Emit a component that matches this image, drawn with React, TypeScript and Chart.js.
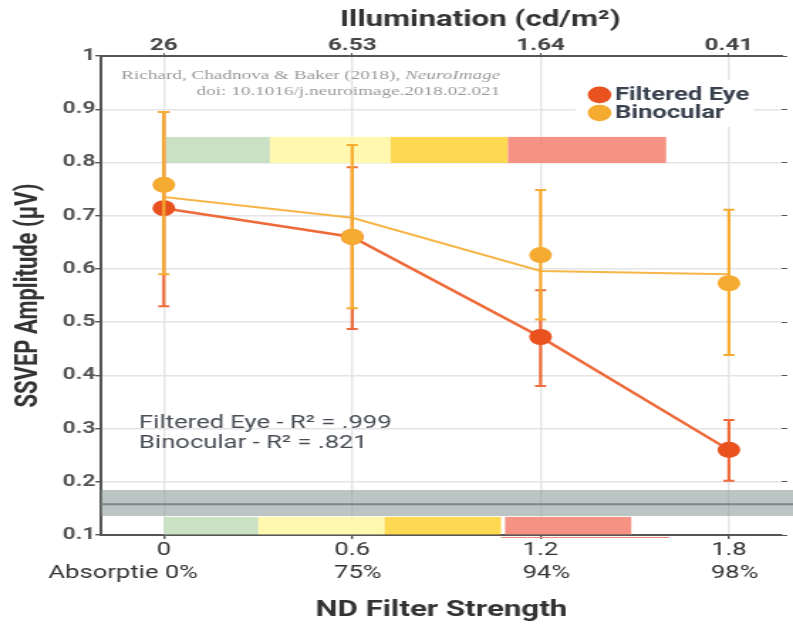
import React, { useEffect, useRef } from 'react';
import { Chart, registerables } from 'chart.js';

Chart.register(...registerables);

// ---------- data ----------
const ndStrength = [0, 0.6, 1.2, 1.8];
const ndLabels = ['0', '0.6', '1.2', '1.8'];
const absorptionLabels = ['Absorptie 0%', '75%', '94%', '98%'];
const illuminationLabels = ['26', '6.53', '1.64', '0.41'];

const filteredEye = [0.714, 0.66, 0.472, 0.26];
const filteredEyeLower = [0.53, 0.487, 0.38, 0.202];
const filteredEyeUpper = [0.895, 0.791, 0.56, 0.316];

const binocular = [0.758, 0.66, 0.626, 0.573];
const binocularLower = [0.59, 0.526, 0.505, 0.438];
const binocularUpper = [0.895, 0.833, 0.748, 0.711];
const binocularFit = [0.735, 0.696, 0.596, 0.59];

const bandColors = ['#C6DFC0', '#FFF8A8', '#FFD545', '#F58A7B'];
const topBandStarts = [0.006, 0.338, 0.722, 1.096];
const topBandEnds = [0.338, 0.722, 1.096, 1.6];
const topBandRange = [0.799, 0.848];
const bottomBandStarts = [0, 0.301, 0.703, 1.087];
const bottomBandEnds = [0.301, 0.703, 1.074, 1.489];
const bottomBandRange = [0.101, 0.134];
const grayBandRange = [0.1357, 0.1846];
const grayBandLine = 0.158;

const citation = ['Richard, Chadnova & Baker (2018), ', 'NeuroImage', 'doi: 10.1016/j.neuroimage.2018.02.021'];
const rSquaredLines = ['Filtered Eye - R\u00B2 = .999', 'Binocular - R\u00B2 = .821'];
const legendLabels = ['Filtered Eye', 'Binocular'];

// ---------- style ----------
const W = 558; // internal canvas width, shown stretched to 793px
const H = 625;
const RED = '#E9511E';
const RED_LINE = '#EE6A3A';
const ORANGE = '#F5AA30';
const ORANGE_LINE = '#F7B548';
const AXIS = '#555555';
const GRID = '#E4E4E4';
const FONT = 'Roboto, "Noto Sans", sans-serif';

const annotPlugin = {
  id: 'annot',
  beforeDatasetsDraw(chart: any) {
    const { ctx, chartArea, scales } = chart;
    const x = scales.x;
    const y = scales.y;
    ctx.save();
    // gray band (runs to the right edge of the canvas)
    const gTop = y.getPixelForValue(grayBandRange[1]);
    const gBot = y.getPixelForValue(grayBandRange[0]);
    ctx.fillStyle = 'rgba(143,157,157,0.6)';
    ctx.fillRect(chartArea.left, gTop, chart.width - chartArea.left, gBot - gTop);
    ctx.strokeStyle = '#7E8787';
    ctx.lineWidth = 2;
    ctx.beginPath();
    const gl = y.getPixelForValue(grayBandLine);
    ctx.moveTo(chartArea.left, gl);
    ctx.lineTo(chart.width, gl);
    ctx.stroke();

    // colour bands
    ctx.globalAlpha = 0.93;
    const drawBands = (starts: number[], ends: number[], range: number[]) => {
      const t = y.getPixelForValue(range[1]);
      const b = y.getPixelForValue(range[0]);
      starts.forEach((s, i) => {
        const l = x.getPixelForValue(s);
        const r = x.getPixelForValue(ends[i]);
        ctx.fillStyle = bandColors[i];
        ctx.fillRect(l, t, r - l, b - t);
      });
    };
    drawBands(topBandStarts, topBandEnds, topBandRange);
    drawBands(bottomBandStarts, bottomBandEnds, bottomBandRange);
    ctx.globalAlpha = 1;
    // thin salmon outline under last bottom band
    ctx.strokeStyle = '#F08A7C';
    ctx.lineWidth = 1.2;
    ctx.beginPath();
    ctx.moveTo(x.getPixelForValue(1.074), chartArea.bottom + 2.5);
    ctx.lineTo(x.getPixelForValue(1.61), chartArea.bottom + 2.5);
    ctx.stroke();

    // legend background
    const lx0 = x.getPixelForValue(1.312);
    const lx1 = x.getPixelForValue(1.879);
    const ly0 = y.getPixelForValue(0.955);
    const ly1 = y.getPixelForValue(0.867);
    ctx.fillStyle = '#ffffff';
    ctx.fillRect(lx0, ly0, lx1 - lx0, ly1 - ly0);
    // legend markers and labels
    const legendColors = [RED, ORANGE];
    const legendY = [0.927, 0.893];
    ctx.textAlign = 'left';
    ctx.textBaseline = 'middle';
    ctx.font = `bold 18px ${FONT}`;
    legendLabels.forEach((lab, i) => {
      const cy = y.getPixelForValue(legendY[i]);
      ctx.fillStyle = legendColors[i];
      ctx.beginPath();
      ctx.arc(x.getPixelForValue(1.388), cy, 8.3, 0, Math.PI * 2);
      ctx.fill();
      ctx.fillStyle = '#3A4250';
      ctx.fillText(lab, x.getPixelForValue(1.437), cy + 1);
    });

    // citation
    ctx.fillStyle = '#9A9A9A';
    ctx.textAlign = 'right';
    const cx = x.getPixelForValue(1.072);
    ctx.font = `italic 13.5px "Liberation Serif", serif`;
    const italicW = ctx.measureText(citation[1]).width;
    ctx.fillText(citation[1], cx, y.getPixelForValue(0.964));
    ctx.font = `13.5px "Liberation Serif", serif`;
    ctx.fillText(citation[0], cx - italicW, y.getPixelForValue(0.964));
    ctx.fillText(citation[2], cx, y.getPixelForValue(0.934));

    // R squared
    ctx.textAlign = 'left';
    ctx.fillStyle = '#474C55';
    ctx.font = `18px ${FONT}`;
    ctx.fillText(rSquaredLines[0], x.getPixelForValue(-0.079), y.getPixelForValue(0.31));
    ctx.fillText(rSquaredLines[1], x.getPixelForValue(-0.079), y.getPixelForValue(0.271));

    // second row of bottom labels
    ctx.fillStyle = '#333333';
    ctx.font = `18px ${FONT}`;
    const rowY = chartArea.bottom + 38;
    absorptionLabels.forEach((lab, i) => {
      const px = x.getPixelForValue(ndStrength[i]);
      if (i === 0) {
        ctx.textAlign = 'right';
        ctx.fillText(lab, px + 24, rowY);
      } else {
        ctx.textAlign = 'center';
        ctx.fillText(lab, px + 4, rowY);
      }
    });

    // top axis title
    ctx.textAlign = 'center';
    ctx.fillStyle = '#333333';
    ctx.font = `bold 22px ${FONT}`;
    ctx.fillText('Illumination (cd/m\u00B2)', x.getPixelForValue(1.008), chartArea.top - 36);
    ctx.restore();
  },
  beforeDatasetDraw(chart: any, args: any) {
    const { ctx, scales } = chart;
    const x = scales.x;
    const y = scales.y;
    let lower: number[] | null = null;
    let upper: number[] | null = null;
    let color = '';
    if (args.index === 0) {
      lower = binocularLower; upper = binocularUpper; color = ORANGE;
    } else if (args.index === 2) {
      lower = filteredEyeLower; upper = filteredEyeUpper; color = RED_LINE;
    }
    if (!lower || !upper) return;
    ctx.save();
    ctx.strokeStyle = color;
    ndStrength.forEach((v, i) => {
      const px = x.getPixelForValue(v);
      const pl = y.getPixelForValue(lower![i]);
      const pu = y.getPixelForValue(upper![i]);
      ctx.lineWidth = 2.2;
      ctx.beginPath();
      ctx.moveTo(px, pl);
      ctx.lineTo(px, pu);
      ctx.stroke();
      ctx.lineWidth = 2;
      ctx.beginPath();
      ctx.moveTo(px - 3.9, pl);
      ctx.lineTo(px + 3.9, pl);
      ctx.moveTo(px - 3.9, pu);
      ctx.lineTo(px + 3.9, pu);
      ctx.stroke();
    });
    ctx.restore();
  },
};

export default function App() {
  const ref = useRef<HTMLCanvasElement | null>(null);
  useEffect(() => {
    if (!ref.current) return;
    const pts = (arr: number[]) => ndStrength.map((v, i) => ({ x: v, y: arr[i] }));
    const setTicks = (s: any) => {
      s.ticks = ndStrength.map((v) => ({ value: v }));
    };
    const chart = new Chart(ref.current, {
      type: 'line',
      data: {
        datasets: [
          {
            label: 'Binocular',
            data: pts(binocular),
            showLine: false,
            pointRadius: 8,
            pointHoverRadius: 8,
            pointBackgroundColor: ORANGE,
            pointBorderWidth: 0,
            borderColor: ORANGE,
            backgroundColor: ORANGE,
          },
          {
            label: 'Binocular fit',
            data: pts(binocularFit),
            pointRadius: 0,
            borderColor: ORANGE_LINE,
            borderWidth: 2,
            tension: 0,
          },
          {
            label: 'Filtered Eye',
            data: pts(filteredEye),
            pointRadius: 8,
            pointHoverRadius: 8,
            pointBackgroundColor: RED,
            pointBorderWidth: 0,
            borderColor: RED_LINE,
            borderWidth: 2.5,
            tension: 0,
          },
        ],
      },
      options: {
        responsive: false,
        animation: false,
        devicePixelRatio: 1,
        layout: { padding: 0 },
        plugins: {
          legend: { display: false },
          tooltip: { enabled: false },
        },
        scales: {
          x: {
            type: 'linear',
            position: 'bottom',
            min: -0.2,
            max: 1.968,
            afterBuildTicks: setTicks,
            afterFit: (s: any) => { s.height = 90; },
            ticks: {
              autoSkip: false,
              maxRotation: 0,
              padding: 1,
              color: '#333333',
              font: { family: FONT, size: 18 },
              callback: (_v: any, i: number) => ndLabels[i],
            },
            grid: { color: GRID, lineWidth: 1.4, tickColor: AXIS, tickLength: 4 },
            border: { color: AXIS, width: 2 },
            title: {
              display: true,
              text: 'ND Filter Strength',
              color: '#333333',
              font: { family: FONT, size: 22, weight: 'bold' },
              padding: { top: 0, bottom: 1 },
            },
          },
          x2: {
            type: 'linear',
            position: 'top',
            min: -0.2,
            max: 1.968,
            afterBuildTicks: setTicks,
            afterFit: (s: any) => { s.height = 56; },
            ticks: {
              autoSkip: false,
              maxRotation: 0,
              padding: -3,
              color: '#444444',
              font: { family: FONT, size: 17, weight: 'bold' },
              callback: (_v: any, i: number) => illuminationLabels[i],
            },
            grid: { drawOnChartArea: false, tickColor: AXIS, tickLength: 3 },
            border: { color: AXIS, width: 2 },
          },
          y: {
            type: 'linear',
            position: 'left',
            min: 0.1,
            max: 1,
            afterFit: (s: any) => { s.width = 71.1; },
            ticks: {
              stepSize: 0.1,
              padding: 0,
              color: '#555555',
              font: { family: FONT, size: 16, weight: 'bold' },
              callback: (v: any) => String(Number(Number(v).toFixed(1))),
            },
            grid: { color: GRID, lineWidth: 1.4, tickColor: AXIS, tickLength: 4 },
            border: { color: AXIS, width: 2 },
            title: {
              display: true,
              text: 'SSVEP Amplitude (\u00B5V)',
              color: '#333333',
              font: { family: FONT, size: 22, weight: 'bold' },
              padding: { top: 7, bottom: 0 },
            },
          },
          yR: {
            type: 'linear',
            position: 'right',
            min: 0.1,
            max: 1,
            afterFit: (s: any) => { s.width = 5.6; },
            ticks: { stepSize: 0.1, display: false },
            grid: { drawOnChartArea: false, tickColor: AXIS, tickLength: 4 },
            border: { display: false },
          },
        },
      } as any,
      plugins: [annotPlugin],
    });
    return () => chart.destroy();
  }, []);

  return (
    <div style={{ position: 'fixed', left: 0, top: 0, width: 793, height: 625, background: '#ffffff' }}>
      <canvas
        ref={ref}
        width={W}
        height={H}
        style={{ display: 'block', width: '793px', height: '625px' }}
      />
    </div>
  );
}
